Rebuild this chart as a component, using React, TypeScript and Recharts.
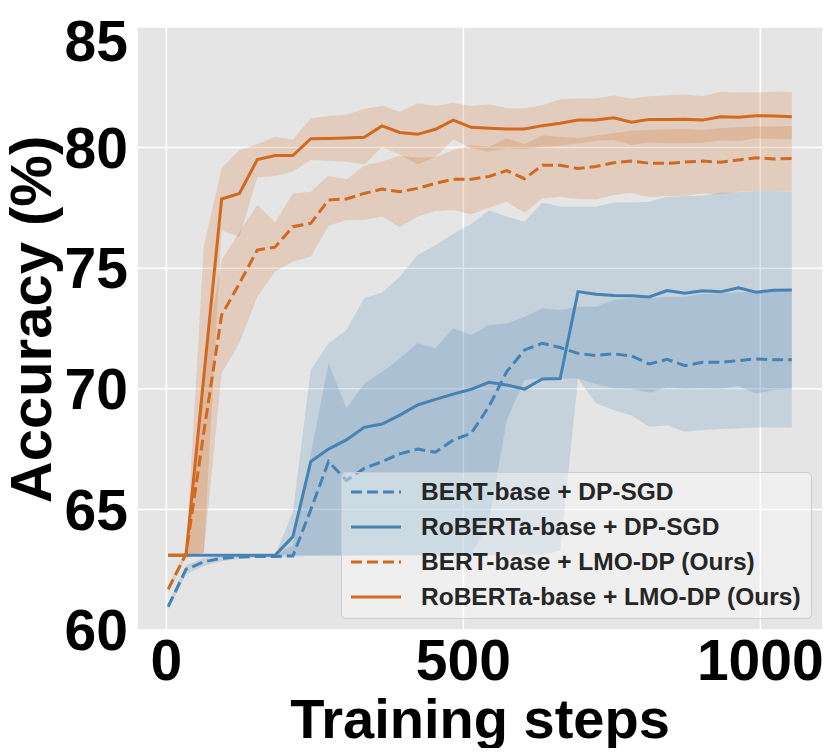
import React from "react";
import {
  ComposedChart, Line, Area, XAxis, YAxis, CartesianGrid, Label,
} from "recharts";

// training steps (x)
const steps = [
  3, 33, 63, 93, 123, 153, 183, 213, 243, 273, 303, 333, 363, 393, 423, 453, 483, 513,
  543, 573, 603, 633, 663, 693, 723, 753, 783, 813, 843, 873, 903, 933, 963, 993, 1023, 1053,
];

// BERT-base + DP-SGD
const bertSgd = [
  60.97, 62.51, 62.83, 62.97, 63.03, 63.05, 63.05, 63.07, 64.98, 66.98, 66.2, 66.7,
  66.98, 67.3, 67.5, 67.37, 67.88, 68.15, 69.26, 70.71, 71.61, 71.89, 71.71, 71.47,
  71.38, 71.45, 71.36, 71.03, 71.22, 70.96, 71.1, 71.1, 71.17, 71.24, 71.2, 71.2,
];
const bertSgdLow = [
  60.85, 62.3, 62.65, 62.85, 62.95, 63.0, 63.02, 63.05, 63.07, 63.08, 63.08, 63.09,
  63.09, 63.1, 63.1, 63.1, 63.1, 63.1, 64.5, 68.71, 70.36, 70.43, 70.43, 70.43,
  69.4, 69.12, 68.89, 68.43, 68.49, 68.22, 68.29, 68.33, 68.36, 68.4, 68.4, 68.4,
];
const bertSgdHigh = [
  61.1, 62.7, 62.98, 63.08, 63.1, 63.1, 63.12, 63.5, 67.3, 71.06, 69.19, 70.2,
  70.71, 71.26, 71.89, 71.68, 72.51, 72.23, 72.64, 72.71, 72.99, 73.34, 73.27, 73.4,
  73.4, 73.68, 73.75, 73.75, 73.82, 73.82, 73.93, 73.96, 74.0, 74.03, 74.1, 74.1,
];

// RoBERTa-base + DP-SGD
const robSgd = [
  63.1, 63.1, 63.1, 63.1, 63.1, 63.1, 63.1, 63.87, 66.98, 67.5, 67.88, 68.4,
  68.54, 68.91, 69.33, 69.56, 69.78, 69.98, 70.27, 70.16, 69.99, 70.41, 70.43, 74.03,
  73.92, 73.87, 73.86, 73.81, 74.07, 73.96, 74.06, 74.02, 74.19, 74.0, 74.09, 74.1,
];
const robSgdLow = [
  63.1, 63.1, 63.1, 63.1, 63.1, 63.1, 63.1, 63.1, 63.1, 63.1, 63.1, 63.1,
  63.1, 63.1, 63.1, 63.1, 63.1, 63.1, 63.1, 63.1, 63.1, 63.1, 63.3, 70.43,
  70.2, 70.02, 70.0, 69.84, 70.05, 70.0, 70.02, 70.0, 70.12, 69.81, 69.95, 69.98,
];
const robSgdHigh = [
  63.1, 63.1, 63.1, 63.1, 63.1, 63.1, 63.1, 64.9, 70.78, 71.89, 72.44, 73.75,
  73.99, 74.65, 75.55, 75.96, 76.42, 76.83, 77.39, 77.14, 76.93, 77.72, 77.55, 77.55,
  77.55, 77.72, 77.72, 77.76, 77.96, 77.98, 78.0, 78.13, 78.15, 78.2, 78.19, 78.19,
];

// BERT-base + LMO-DP (Ours)
const bertLmo = [
  61.69, 63.15, 68.2, 73.06, 74.37, 75.75, 75.87, 76.72, 76.86, 77.83, 77.87, 78.1,
  78.28, 78.17, 78.31, 78.52, 78.69, 78.69, 78.8, 79.05, 78.71, 79.27, 79.27, 79.13,
  79.22, 79.37, 79.44, 79.35, 79.35, 79.4, 79.44, 79.39, 79.49, 79.58, 79.53, 79.55,
];
const bertLmoLow = [
  61.55, 63.0, 63.2, 70.64, 71.9, 73.82, 74.86, 75.27, 75.48, 76.76, 77.0, 77.0,
  77.14, 76.7, 77.14, 77.37, 77.41, 77.23, 77.51, 77.76, 77.3, 77.9, 77.96, 77.87,
  77.85, 78.03, 78.13, 77.94, 77.99, 78.0, 78.1, 78.08, 78.17, 78.21, 78.2, 78.2,
];
const bertLmoHigh = [
  61.85, 63.3, 71.0, 75.34, 76.5, 77.62, 76.9, 78.1, 78.17, 78.83, 78.68, 79.25,
  79.42, 79.66, 79.58, 79.6, 79.9, 80.11, 80.04, 80.39, 80.14, 80.5, 80.45, 80.39,
  80.5, 80.59, 80.7, 80.73, 80.76, 80.77, 80.73, 80.8, 80.84, 80.87, 80.87, 80.9,
];

// RoBERTa-base + LMO-DP (Ours)
const robLmo = [
  63.1, 63.1, 70.5, 77.87, 78.1, 79.5, 79.67, 79.67, 80.37, 80.38, 80.4, 80.43,
  80.9, 80.63, 80.55, 80.76, 81.14, 80.84, 80.8, 80.77, 80.77, 80.91, 81.01, 81.14,
  81.14, 81.24, 81.05, 81.17, 81.17, 81.18, 81.14, 81.28, 81.26, 81.32, 81.31, 81.28,
];
const robLmoLow = [
  63.1, 63.1, 63.2, 76.58, 76.28, 78.77, 78.82, 79.0, 79.49, 79.45, 79.42, 79.3,
  80.01, 79.72, 79.3, 79.6, 80.34, 79.97, 79.83, 79.97, 79.93, 80.04, 80.08, 80.18,
  80.28, 80.32, 80.11, 80.21, 80.18, 80.18, 80.2, 80.29, 80.27, 80.39, 80.36, 80.35,
];
const robLmoHigh = [
  63.1, 63.1, 75.9, 79.14, 79.9, 80.14, 80.45, 80.34, 81.21, 81.31, 81.36, 81.6,
  81.74, 81.49, 81.84, 81.72, 81.86, 81.72, 81.8, 81.63, 81.63, 81.76, 82.0, 82.04,
  82.04, 82.16, 82.04, 82.13, 82.16, 82.2, 82.13, 82.32, 82.28, 82.28, 82.32, 82.3,
];

const xTicks = [0, 500, 1000];
const yTicks = [60, 65, 70, 75, 80, 85];

const BLUE = "#4682B4";
const ORANGE = "#D2691E";
const FONT = "'Liberation Sans', Arial, sans-serif";

const data = steps.map((step, i) => ({
  step,
  bertSgd: bertSgd[i],
  bertSgdBand: [bertSgdLow[i], bertSgdHigh[i]],
  robSgd: robSgd[i],
  robSgdBand: [robSgdLow[i], robSgdHigh[i]],
  bertLmo: bertLmo[i],
  bertLmoBand: [bertLmoLow[i], bertLmoHigh[i]],
  robLmo: robLmo[i],
  robLmoBand: [robLmoLow[i], robLmoHigh[i]],
}));

const series = [
  { key: "bertSgd", label: "BERT-base + DP-SGD", color: BLUE, dashed: true },
  { key: "robSgd", label: "RoBERTa-base + DP-SGD", color: BLUE, dashed: false },
  { key: "bertLmo", label: "BERT-base + LMO-DP (Ours)", color: ORANGE, dashed: true },
  { key: "robLmo", label: "RoBERTa-base + LMO-DP (Ours)", color: ORANGE, dashed: false },
];

const tickStyle = { fontSize: 57, fontWeight: 700, fill: "#000", fontFamily: FONT };

function XTitle(props: any) {
  const vb = props.viewBox || { x: 129, y: 622, width: 686, height: 118 };
  return (
    <text
      x={vb.x + vb.width / 2}
      y={vb.y + 88}
      textAnchor="middle"
      dominantBaseline="central"
      style={{ fontSize: 56, fontWeight: 700, fill: "#000", fontFamily: FONT }}
    >
      Training steps
    </text>
  );
}

function YTitle(props: any) {
  const vb = props.viewBox || { x: 0, y: 19, width: 129, height: 603 };
  const cx = vb.x + 22;
  const cy = vb.y + vb.height / 2 - 9;
  return (
    <text
      x={cx}
      y={cy}
      transform={`rotate(-90 ${cx} ${cy})`}
      textAnchor="middle"
      dominantBaseline="central"
      style={{ fontSize: 58, fontWeight: 700, fill: "#000", fontFamily: FONT }}
    >
      Accuracy (%)
    </text>
  );
}

export default function App() {
  return (
    <div style={{ position: "relative", width: 815, height: 740, fontFamily: FONT }}>
      <ComposedChart width={815} height={740} data={data} margin={{ top: 19, right: 0, bottom: 0, left: 0 }}>
        <CartesianGrid fill="#E5E5E5" stroke="#FFFFFF" strokeWidth={1.5} />
        <XAxis
          type="number"
          dataKey="step"
          domain={[-49.5, 1105.5]}
          ticks={xTicks}
          allowDataOverflow
          height={118}
          axisLine={false}
          tickLine={false}
          tickSize={0}
          tickMargin={10}
          tick={tickStyle}
        >
          <Label content={XTitle} />
        </XAxis>
        <YAxis
          type="number"
          domain={[60, 85]}
          ticks={yTicks}
          allowDataOverflow
          width={129}
          axisLine={false}
          tickLine={false}
          tickSize={0}
          tickMargin={9}
          tick={tickStyle}
        >
          <Label content={YTitle} />
        </YAxis>

        {series.map((s) => [
          <Area
            key={s.key + "Band"}
            type="linear"
            dataKey={s.key + "Band"}
            stroke="none"
            fill={s.color}
            fillOpacity={0.2}
            isAnimationActive={false}
            activeDot={false}
          />,
          <Line
            key={s.key}
            type="linear"
            dataKey={s.key}
            stroke={s.color}
            strokeWidth={3}
            strokeDasharray={s.dashed ? "11 5" : undefined}
            dot={false}
            activeDot={false}
            isAnimationActive={false}
          />,
        ])}
      </ComposedChart>

      {/* legend */}
      <div
        style={{
          position: "absolute",
          left: 333,
          top: 464,
          width: 471,
          height: 147,
          boxSizing: "border-box",
          border: "1px solid #CCCCCC",
          borderRadius: 5,
          background: "rgba(255,255,255,0.4)",
          paddingTop: 1,
        }}
      >
        {series.map((s) => (
          <div key={s.key} style={{ display: "flex", alignItems: "center", height: 35 }}>
            <svg width={50} height={6} style={{ marginLeft: 9, marginRight: 20 }}>
              <line
                x1={0}
                y1={3}
                x2={50}
                y2={3}
                stroke={s.color}
                strokeWidth={3}
                strokeDasharray={s.dashed ? "11 5" : undefined}
              />
            </svg>
            <span style={{ fontSize: 24.5, fontWeight: 700, color: "#262626", whiteSpace: "nowrap" }}>
              {s.label}
            </span>
          </div>
        ))}
      </div>
    </div>
  );
}
